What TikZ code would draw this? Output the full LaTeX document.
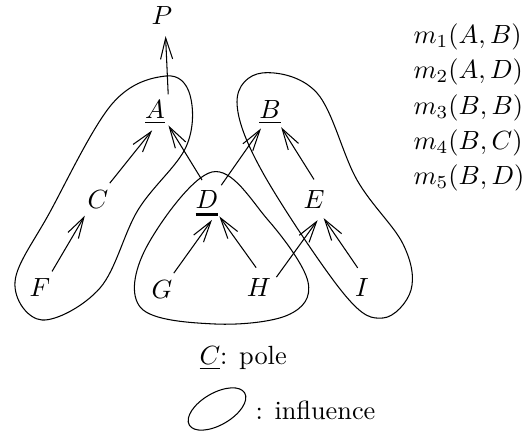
\documentclass[tikz,border=0pt]{standalone}
\usepackage{amsmath}
\usepackage{tikz}
\usetikzlibrary{arrows.meta}
\newcommand{\thickbar}[1]{\setbox0=\hbox{$#1$}\makebox[\wd0][l]{\copy0}\llap{\raisebox{-2.5pt}{\rule{\wd0}{1pt}}}}

\begin{document}
\begin{tikzpicture}[x=0.38pt, y=-0.38pt,
  letter/.style={circle, inner sep=0pt, minimum size=15.2pt, text height=6.8pt, text depth=0pt},
  link/.style={-{Straight Barb[length=8pt,width=4.6pt]}},
  legend/.style={anchor=west, inner sep=0pt}]
  \useasboundingbox (0,0) rectangle (522,436);

  % letters
  \node[letter] (P) at (162,16)  {$P$};
  \node[letter] (A) at (155,110) {$\underline{A}$};
  \node[letter] (B) at (270,110) {$\underline{B}$};
  \node[letter] (C) at (98,200)  {$C$};
  \node[letter] (D) at (207,200) {\thickbar{D}};
  \node[letter] (E) at (314,200) {$E$};
  \node[letter] (F) at (40,288)  {$F$};
  \node[letter] (G) at (162,290) {$G$};
  \node[letter] (H) at (259,288) {$H$};
  \node[letter] (I) at (362,288) {$I$};

  % links
  \draw[link] (A.50)  -- (P.-80);
  \draw[link] (C.55)  -- (A.-98);
  \draw[link] (D.104) -- (A.-49);
  \draw[link] (D.46)  -- (B.-116);
  \draw[link] (E.90)  -- (B.-57);
  \draw[link] (F.54)  -- (C.-130);
  \draw[link] (G.55)  -- (D.-76);
  \draw[link] (H.98)  -- (D.-53);
  \draw[link] (H.32)  -- (E.-80);
  \draw[link] (I.102) -- (E.-62);

  % influence regions
  \draw plot[smooth cycle, tension=0.6] coordinates {(166,76) (190,95) (186,147)
    (138,210) (100,288) (42,320) (15,282) (50,212) (112,104)};
  \draw plot[smooth cycle, tension=0.6] coordinates {(262,73) (317,93) (357,180)
    (403,244) (411,290) (383,318) (344,294) (263,173) (237,102)};
  \draw plot[smooth cycle, tension=0.6] coordinates {(212,172) (268,220)
    (308,282) (288,315) (215,324) (141,308) (146,248)};

  % messages
  \foreach \i/\pair in {1/{A,B},2/{A,D},3/{B,B},4/{B,C},5/{B,D}}
    \node[legend] (m\i) at (413,1.75+35.25*\i) {$m_{\i}(\pair)$};

  % legend
  \node[legend] (pole) at (199,358) {$\underline{C}$: pole};
  \draw[rotate around={30:(217,409)}] (217,409) ellipse (32 and 16);
  \node[legend] (infl) at (255,410) {: influence};
\end{tikzpicture}
\end{document}
